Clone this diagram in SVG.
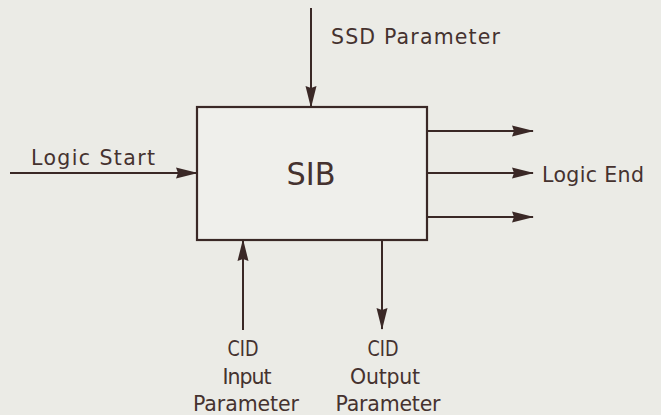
<svg xmlns="http://www.w3.org/2000/svg" width="661" height="415" viewBox="0 0 661 415">
<defs>
<marker id="ah" viewBox="0 0 22 12" refX="21" refY="6" markerWidth="22" markerHeight="12" markerUnits="userSpaceOnUse" orient="auto">
<path d="M0,0.5 L22,6 L0,11.5 L2,6 Z" fill="#3a2826"/>
</marker>
<style>
.t{font-family:"DejaVu Sans","Liberation Sans",sans-serif;font-size:20.5px;fill:#45322f}
.c{stroke:#3a2826;stroke-width:2;fill:none}
</style>
</defs>
<rect width="661" height="415" fill="#ebebe6"/>
<g id="sib">
<rect x="197" y="107" width="230" height="133" fill="#efefeb" stroke="#3a2826" stroke-width="2.2"/>
<text x="311" y="185" text-anchor="middle" style="font-family:'DejaVu Sans','Liberation Sans',sans-serif;font-size:32px;fill:#45322f" textLength="49" lengthAdjust="spacingAndGlyphs">SIB</text>
</g>
<g id="connectors">
<line class="c" x1="311" y1="8" x2="311" y2="107" marker-end="url(#ah)"/>
<line class="c" x1="10" y1="173" x2="197" y2="173" marker-end="url(#ah)"/>
<line class="c" x1="427" y1="131" x2="533" y2="131" marker-end="url(#ah)"/>
<line class="c" x1="427" y1="173" x2="533" y2="173" marker-end="url(#ah)"/>
<line class="c" x1="427" y1="217" x2="533" y2="217" marker-end="url(#ah)"/>
<line class="c" x1="243" y1="330" x2="243" y2="240" marker-end="url(#ah)"/>
<line class="c" x1="382" y1="240" x2="382" y2="329" marker-end="url(#ah)"/>
</g>
<g id="ssd-label"><text class="t" x="331" y="44" textLength="169" lengthAdjust="spacing">SSD Parameter</text></g>
<g id="logic-start-label"><text class="t" x="31" y="165" textLength="124" lengthAdjust="spacing">Logic Start</text></g>
<g id="logic-end-label"><text class="t" x="542" y="182" textLength="102" lengthAdjust="spacing">Logic End</text></g>
<g id="cid-input-label">
<text class="t" x="243" y="356" text-anchor="middle" textLength="31" lengthAdjust="spacingAndGlyphs">CID</text>
<text class="t" x="247" y="384" text-anchor="middle" textLength="49" lengthAdjust="spacing">Input</text>
<text class="t" x="246" y="411" text-anchor="middle" textLength="106" lengthAdjust="spacing">Parameter</text>
</g>
<g id="cid-output-label">
<text class="t" x="383" y="356" text-anchor="middle" textLength="31" lengthAdjust="spacingAndGlyphs">CID</text>
<text class="t" x="385" y="384" text-anchor="middle" textLength="70" lengthAdjust="spacing">Output</text>
<text class="t" x="388" y="411" text-anchor="middle" textLength="105" lengthAdjust="spacing">Parameter</text>
</g>
</svg>
